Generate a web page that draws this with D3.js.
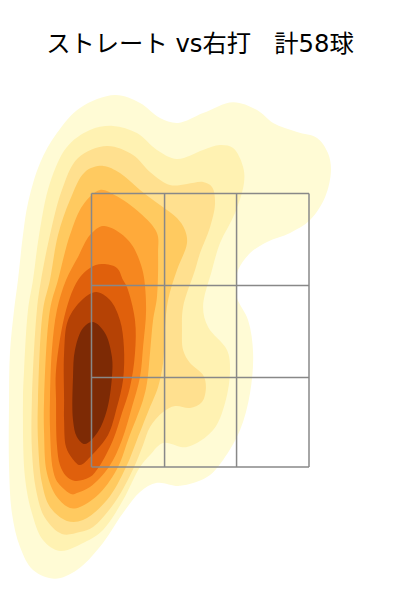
<!DOCTYPE html>
<html>
<head>
<meta charset="utf-8">
<script src="https://cdn.jsdelivr.net/npm/d3@7"></script>
<style>
    body { margin: 0; background: #fff; }
    text { font-family: "DejaVu Sans", "Noto Sans CJK JP", sans-serif; white-space: pre; }
</style>
</head>
<body>
<svg id="chart" width="400" height="600"></svg>
<script>
// density outlines, in percent of the strike zone
// (0,0 is the bottom left corner of the grid, 100,100 the top right)
const level1 = [[10.8,136],[22.3,133.1],[31.5,127.6],[39.8,125.8],[51.3,129.4],[65.1,133.4],[76.1,130.5],[83.5,125.8],[94.5,122.5],[103.7,120.3],[108.7,114.8],[110.1,108.6],[107.4,98.7],[100.5,90.3],[91.3,85.6],[80.7,82.3],[72.9,78.2],[67.4,72],[66.4,66.5],[66.9,61.8],[72,53.7],[74.3,41.7],[72.9,27.1],[68.3,13.5],[60.5,2.6],[53.1,-3.7],[40.7,-6.9],[30.1,-5.8],[22.3,-9.1],[14.5,-16.8],[3.9,-29.2],[-6.7,-37.7],[-16.8,-40.9],[-26.9,-37.7],[-32.9,-29.2],[-36.6,-16.8],[-37.9,0],[-37.9,24.5],[-37.5,41.7],[-35.6,57.4],[-33.8,68.4],[-31.5,84.8],[-29.2,96.5],[-23.7,111.1],[-15.9,122.1],[-5.3,131.3]];
const level2 = [[9.9,124.7],[20.9,122.1],[30.1,115.9],[39.3,112.6],[51.3,115.9],[59.1,117.7],[65.1,116.6],[69.7,109.7],[70.1,103.8],[66,92.9],[59.1,81.9],[55.4,72],[51.3,58.5],[53.6,51.2],[62.3,42.8],[63.7,35.5],[61.4,23.4],[55.9,13.5],[43.9,7.3],[32.9,8.8],[26.9,4.4],[22.3,0],[14.5,-12.1],[5.3,-23],[-2.1,-27.1],[-14.5,-30.7],[-22.3,-26.7],[-27.4,-16.8],[-30.6,-3.7],[-31.5,24.5],[-31,35.5],[-29.2,57.4],[-26.9,68.4],[-24.1,84.8],[-19.1,103.8],[-11.3,117],[-0.7,123.2]];
const level3 = [[7.1,117.4],[19.1,114.1],[26.9,107.9],[36.1,103.1],[43.9,103.5],[51.3,104.2],[55.4,102.4],[56.8,96.5],[54.5,87.7],[49.9,78.2],[47.6,72],[42.1,58.5],[41.6,50.1],[42.1,42.8],[45.3,38],[51.3,33.6],[52.6,29.2],[50.8,23.8],[45.3,21.6],[38.4,22.3],[32.9,20.1],[26.9,14.6],[23.7,8],[19.6,0],[10.8,-12.8],[0.7,-21.9],[-5.3,-23.8],[-13.6,-24.5],[-21.4,-18.6],[-25.5,-8.4],[-27.4,6.2],[-27.4,24.5],[-25.1,57.4],[-23.2,68.4],[-19.1,84.8],[-13.6,101.3],[-6.2,113]];
const level4 = [[5.3,110.1],[13.1,107.5],[22.3,101.3],[31.5,95.8],[39.3,91],[43,86.6],[43.9,81.9],[39.3,72],[35.2,61.1],[33.8,51.2],[32.9,38],[30.6,29.2],[26.9,21.9],[20.9,9.9],[15.9,0],[7.1,-12.1],[-3.9,-19.4],[-11.3,-19.7],[-19.1,-14.6],[-22.8,-5.8],[-24.6,9.9],[-24.6,24.5],[-22.3,57.4],[-19.1,68.4],[-15.4,84.8],[-9.9,97.6],[-3,107.9]];
const level5 = [[3.9,101.3],[10.8,99.4],[22.3,92.9],[30.1,85.6],[30.6,78.2],[30.1,62.2],[28.3,53.7],[26.9,41.7],[25.5,30.7],[23.7,24.5],[16.8,9.9],[12.2,0],[3.9,-9.5],[-5.3,-14.6],[-9.9,-15],[-15.9,-11],[-20.5,-2.2],[-21.8,12.4],[-21.8,24.5],[-19.1,57.4],[-15.4,68.4],[-9.9,84.8],[-3.9,95.8]];
const level6 = [[5.3,88.1],[13.1,85.6],[18.6,81.2],[22.3,75],[24.1,69.5],[25.1,57.4],[23.7,43.9],[22.3,32.9],[18.6,21.9],[14,9.9],[8,0],[-0.7,-7.3],[-6.7,-9.5],[-9,-10],[-15.4,-5.8],[-17.7,-1.1],[-19.1,14.6],[-19.1,24.5],[-18.2,42.8],[-15.9,57.4],[-11.7,68.4],[-6.2,76.8],[-0.7,84.8]];
const level7 = [[4.8,74.2],[11.7,72.8],[14.5,68.4],[16.3,65.8],[20,53.7],[20,41.7],[17.7,29.2],[14,19.7],[9.9,9.9],[3.4,0],[-0.7,-3.7],[-7.6,-5.1],[-11.7,-3.3],[-14.5,0.7],[-15.9,8],[-16.3,24.5],[-16.3,35.5],[-11.7,57.4],[-6.2,68.4],[-0.7,72.8]];
const level8 = [[2.1,64],[8.5,61.1],[13.1,53.7],[14.9,43.9],[14.5,31.8],[11.7,21.9],[7.6,11.7],[0.2,4.4],[-5.3,0.7],[-9,3.3],[-11.7,7.3],[-12.6,17.2],[-12.6,24.5],[-12.6,41.7],[-10.8,53.7],[-4.4,61.1]];
const level9 = [[0.7,53],[6.2,49],[9.4,40.2],[9.4,32.9],[7.1,20.8],[2.9,12.8],[-3,8.4],[-6.7,11],[-8.5,17.2],[-8.5,32.9],[-7.6,42.8],[-3.9,50.8]];

const zoneX = [0, 33.6, 66.7, 100];
const zoneY = [0, 32.7, 66.4, 100];
const title = "ストレート vs右打   計58球";

const levels = [level1, level2, level3, level4, level5, level6, level7, level8, level9];
const colors = ["#fffbd5", "#fff2b2", "#ffe08f", "#ffca60", "#ffaa3a", "#f6871f", "#e0600c", "#b54205", "#7d2a05"];

const svg = d3.select("#chart");

const x = d3.scaleLinear().domain([0, 100]).range([91.5, 309]);
const y = d3.scaleLinear().domain([0, 100]).range([467, 193.5]);

const outline = d3.line()
    .x(d => x(d[0]))
    .y(d => y(d[1]))
    .curve(d3.curveCatmullRomClosed.alpha(0.5));

svg.selectAll(".level")
    .data(levels)
    .enter().append("path")
    .attr("class", "level")
    .attr("d", outline)
    .attr("fill", (d, i) => colors[i]);

svg.selectAll(".vline")
    .data(zoneX)
    .enter().append("line")
    .attr("class", "vline")
    .attr("x1", d => x(d))
    .attr("x2", d => x(d))
    .attr("y1", y(0))
    .attr("y2", y(100))
    .attr("stroke", "#888")
    .attr("stroke-width", 1.5);

svg.selectAll(".hline")
    .data(zoneY)
    .enter().append("line")
    .attr("class", "hline")
    .attr("x1", x(0))
    .attr("x2", x(100))
    .attr("y1", d => y(d))
    .attr("y2", d => y(d))
    .attr("stroke", "#888")
    .attr("stroke-width", 1.5);

svg.append("text")
    .attr("x", 200)
    .attr("y", 52)
    .attr("text-anchor", "middle")
    .attr("font-size", 24.3)
    .text(title);
</script>
</body>
</html>
